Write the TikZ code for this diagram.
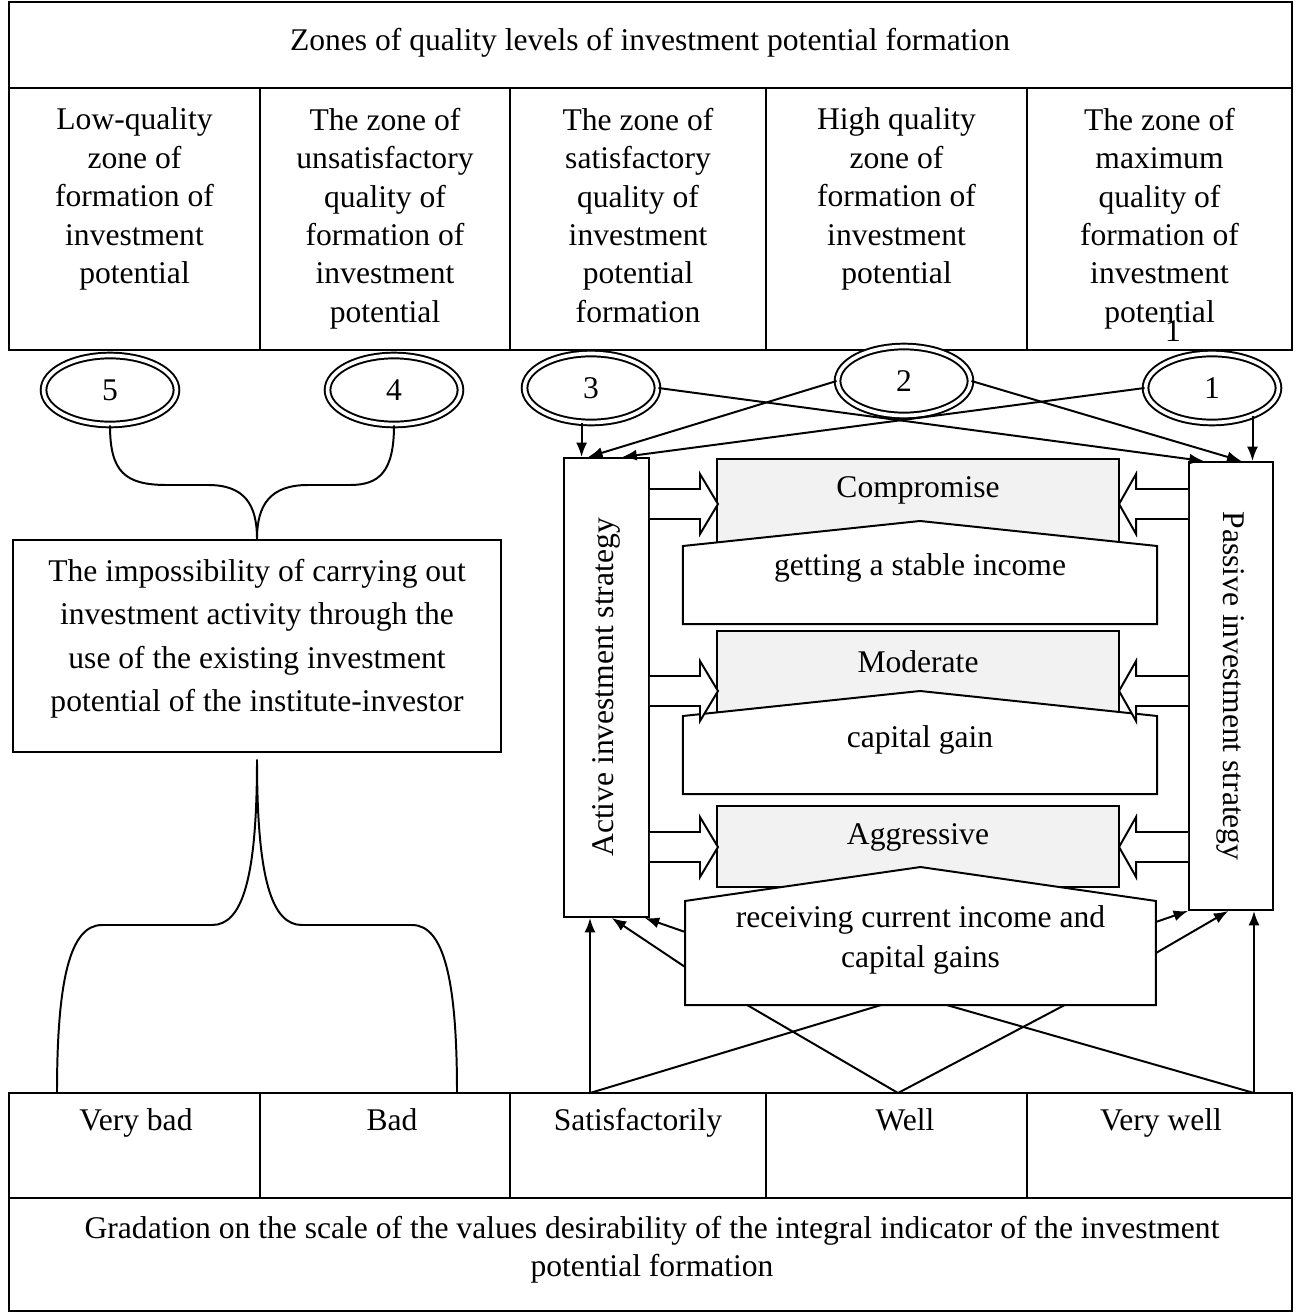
\documentclass[tikz,border=0pt]{standalone}
\usepackage{fontspec}
\setmainfont{Liberation Serif}
\usetikzlibrary{calc,positioning,shapes.geometric,arrows.meta}

\begin{document}
\begin{tikzpicture}[x=0.38pt,y=-0.38pt,line width=0.75pt,
    >={Latex[length=5.5pt,width=4.2pt]},
    every node/.style={font=\fontsize{12pt}{14.6pt}\selectfont,inner sep=0pt},
    txt/.style={align=center},
    zone/.style={ellipse,draw,double,double distance=1.4pt,fill=white,minimum width=50.5pt,minimum height=26.2pt},
    kind/.style={draw,fill=black!5,minimum width=152.8pt,minimum height=32.7pt},
    aim/.style={minimum width=179.4pt,minimum height=28.9pt},
    roof/.style={draw,fill=white},
    blockarr/.style={draw,fill=white}]

  \useasboundingbox (0,0) rectangle (1295,1313);

  % upper table: zones
  \draw (9,2) rectangle (1292,350);
  \draw (9,88) -- (1292,88);
  \foreach \x in {260,510,766,1027} \draw (\x,88) -- (\x,350);

  \node[anchor=base] (zones) at (650,51) {Zones of quality levels of investment potential formation};
  \node[txt,anchor=north] (z1) at (134.5,107) {Low-quality\\zone of\\formation of\\investment\\potential};
  \node[txt,anchor=north] (z2) at (385,107) {The zone of\\unsatisfactory\\quality of\\formation of\\investment\\potential};
  \node[txt,anchor=north] (z3) at (638,107) {The zone of\\satisfactory\\quality of\\investment\\potential\\formation};
  \node[txt,anchor=north] (z4) at (896.5,107) {High quality\\zone of\\formation of\\investment\\potential};
  \node[txt,anchor=north] (z5) at (1159.5,107) {The zone of\\maximum\\quality of\\formation of\\investment\\potential};
  \node (stray) at (1173,331) {1};

  % zone numbers
  \node[zone] (e5) at (110,390) {5};
  \node[zone] (e4) at (394,390) {4};
  \node[zone] (e3) at (591,388) {3};
  \node[zone] (e2) at (904,381) {2};
  \node[zone] (e1) at (1212,388) {1};

  % zones 5 and 4
  \node[draw,minimum width=185.4pt,minimum height=80.6pt] (imp) at (257,646) {};
  \node[txt,anchor=north,font=\fontsize{12pt}{16.5pt}\selectfont] (imptxt) at (257,558)
    {The impossibility of carrying out\\investment activity through the\\use of the existing investment\\potential of the institute-investor};

  \draw (e5.south) .. controls (110,472) and (125,485) .. (167,485) -- (208,485)
        .. controls (245,485) and (257,505) .. (imp.north);
  \draw (e4.south) .. controls (394,472) and (379,485) .. (350,485) -- (308,485)
        .. controls (270,485) and (257,505) .. (imp.north);

  % strategies
  \node[draw,minimum width=32.3pt,minimum height=174.4pt] (act) at (606.5,687.5) {};
  \node[rotate=90] (acttxt) at (act.center) {Active investment strategy};
  \node[draw,minimum width=31.9pt,minimum height=170.2pt] (pas) at (1231,686) {};
  \node[rotate=-90] (pastxt) at (pas.center) {Passive investment strategy};

  \draw[->] (e3.-105) -- (e3.-105 |- act.north);
  \draw[->] (e3.east) -- ([xshift=6pt]pas.north west);
  \draw[->] (e2.west) -- ([xshift=-7pt]act.north);
  \draw[->] (e2.east) -- ([xshift=4pt]pas.north);
  \draw[->] (e1.west) -- ([xshift=6pt]act.north);
  \draw[->] (e1.-35) -- (e1.-35 |- pas.north);

  % portfolio types and their aims
  \node[kind] (comp) at (918,502) {};
  \node[kind] (mod) at (918,674) {};
  \node[kind,minimum height=30.8pt] (aggr) at (918,846.5) {};

  \node[aim] (inc1) at (920,585) {};
  \node[aim] (inc2) at (920,755) {};
  \node[aim,minimum width=178.2pt,minimum height=38.8pt] (inc3) at (920.5,953) {};
  \draw[roof] (inc1.south west) -- (inc1.north west) -- ([yshift=9.5pt]inc1.north) -- (inc1.north east) -- (inc1.south east) -- cycle;
  \draw[roof] (inc2.south west) -- (inc2.north west) -- ([yshift=9.5pt]inc2.north) -- (inc2.north east) -- (inc2.south east) -- cycle;
  \draw[roof] (inc3.south west) -- (inc3.north west) -- ([yshift=12.9pt]inc3.north) -- (inc3.north east) -- (inc3.south east) -- cycle;

  \node[anchor=base] (compt) at (918,497) {Compromise};
  \node[anchor=base] (modt) at (918,672) {Moderate};
  \node[anchor=base] (aggrt) at (918,844) {Aggressive};
  \node[anchor=base] (inc1t) at (920,575) {getting a stable income};
  \node[anchor=base] (inc2t) at (920,747) {capital gain};
  \node[txt,anchor=north,font=\fontsize{12pt}{15.2pt}\selectfont] (inc3t) at (920.5,905)
    {receiving current income and\\capital gains};

  \foreach \c in {504,691,847}{
    \draw[blockarr] (act.east |- 0,\c) ++(0,-15) -- ++(50,0) -- ++(0,-15) -- ++(18,30) -- ++(-18,30) -- ++(0,-15) -- ++(-50,0);
    \draw[blockarr] (pas.west |- 0,\c) ++(0,-15) -- ++(-52,0) -- ++(0,-15) -- ++(-17,30) -- ++(17,30) -- ++(0,-15) -- ++(52,0);
  }

  % lower table: gradation
  \draw (9,1093) rectangle (1292,1311);
  \draw (9,1198) -- (1292,1198);
  \foreach \x in {260,510,766,1027} \draw (\x,1093) -- (\x,1198);

  \node[anchor=base] (vbad) at (136,1130) {Very bad};
  \node[anchor=base] (bad) at (392,1130) {Bad};
  \node[anchor=base] (sat) at (638,1130) {Satisfactorily};
  \node[anchor=base] (well) at (905,1130) {Well};
  \node[anchor=base] (vwell) at (1161,1130) {Very well};
  \node[txt,anchor=north,font=\fontsize{12pt}{14.4pt}\selectfont] (grad) at (652,1215)
    {Gradation on the scale of the values desirability of the integral indicator of the investment\\potential formation};

  \coordinate (bb) at ([yshift=-2.5pt]imp.south);
  \coordinate (g1) at (57,1093);
  \coordinate (g2) at (457,1093);
  \coordinate (g3) at (590,1093);
  \coordinate (g4) at (898,1093);
  \coordinate (g5) at (1254,1093);

  \draw (bb) .. controls (257,880) and (242,925) .. (212,925) -- (102,925) .. controls (70,925) and (57,980) .. (g1);
  \draw (bb) .. controls (257,880) and (272,925) .. (302,925) -- (412,925) .. controls (444,925) and (457,980) .. (g2);

  \draw[->] (g3) -- (g3 |- act.south);
  \draw[->] (g5) -- (g5 |- pas.south);
  \draw[->] ([yshift=8pt]inc3.west) -- ([xshift=-2pt]act.south east);
  \draw[->] ([yshift=-5.3pt]inc3.west) -- ([xshift=2pt]act.south);
  \draw[->] ([yshift=11.8pt]inc3.east) -- (pas.south west);
  \draw[->] (inc3.east) -- ([xshift=-1pt]pas.south);
  \draw (g3) -- ($(inc3.south west)!0.416!(inc3.south east)$);
  \draw (g4) -- ($(inc3.south west)!0.132!(inc3.south east)$);
  \draw (g4) -- ($(inc3.south west)!0.806!(inc3.south east)$);
  \draw (g5) -- ($(inc3.south west)!0.556!(inc3.south east)$);
\end{tikzpicture}
\end{document}
